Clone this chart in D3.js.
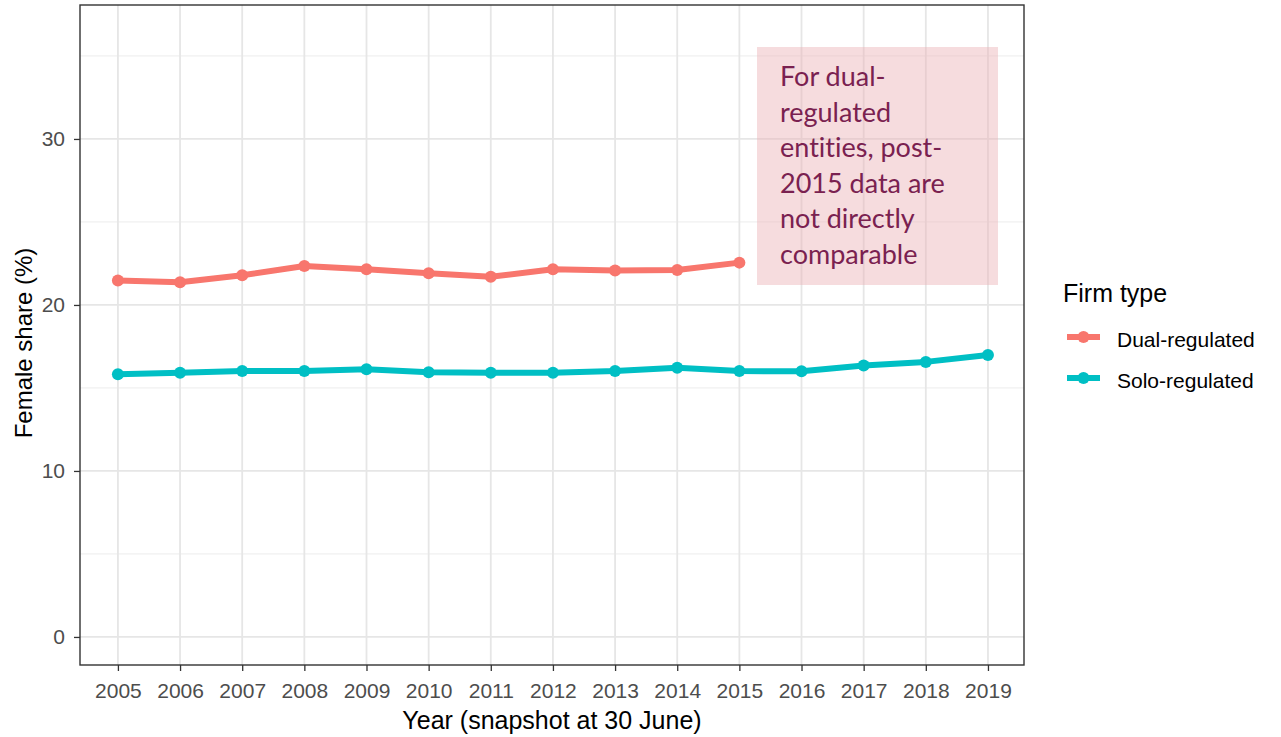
<!DOCTYPE html>
<html><head><meta charset="utf-8">
<script src="https://cdn.jsdelivr.net/npm/d3@7"></script>
<style>body{margin:0;background:#fff}svg{display:block}text{font-variant-ligatures:none;font-feature-settings:"liga" 0}</style>
</head><body>
<svg id="c" width="1281" height="737"></svg>
<script>
const years = [2005,2006,2007,2008,2009,2010,2011,2012,2013,2014,2015,2016,2017,2018,2019];
const dualYears = [2005,2006,2007,2008,2009,2010,2011,2012,2013,2014,2015];
const dualValues = [21.47,21.37,21.79,22.35,22.15,21.91,21.70,22.15,22.07,22.10,22.55];
const soloValues = [15.82,15.92,16.02,16.02,16.13,15.94,15.92,15.92,16.02,16.22,16.02,16.00,16.35,16.57,16.99];
const yTicks = [0,10,20,30];
const yMinor = [5,15,25,35];
const seriesNames = ["Dual-regulated","Solo-regulated"];
const seriesColors = ["#F8766D","#00BFC4"];
const annotationLines = ["For dual-","regulated","entities, post-","2015 data are","not directly","comparable"];

const FONT = "'Liberation Sans', Arial, sans-serif";
const svg = d3.select("#c");
const L=80, R=1024, T=5, B=665;
const x = d3.scaleLinear().domain([2004.39, 2019.58]).range([L,R]);
const y = d3.scaleLinear().domain([-1.69, 38.07]).range([B,T]);

// gridlines
const g = svg.append("g");
g.selectAll(".ym").data(yMinor).join("line").attr("x1",L).attr("x2",R)
 .attr("y1",d=>y(d)).attr("y2",d=>y(d)).attr("stroke","#f0f0f0").attr("stroke-width",1.2);
g.selectAll(".yM").data(yTicks).join("line").attr("x1",L).attr("x2",R)
 .attr("y1",d=>y(d)).attr("y2",d=>y(d)).attr("stroke","#e6e6e6").attr("stroke-width",1.8);
g.selectAll(".xM").data(years).join("line").attr("y1",T).attr("y2",B)
 .attr("x1",d=>x(d)).attr("x2",d=>x(d)).attr("stroke","#e6e6e6").attr("stroke-width",1.8);

// annotation box
svg.append("rect").attr("x",757).attr("y",47).attr("width",241).attr("height",238)
 .attr("fill","rgba(236,178,182,0.45)");
svg.append("g").selectAll("text").data(annotationLines).join("text")
 .attr("x",780).attr("y",(d,i)=>86+i*35.5)
 .attr("font-family","Lato, 'Open Sans', sans-serif").attr("font-size",27)
 .attr("fill","#7a2150").text(d=>d);

// lines
const line = d3.line().x(d=>x(d[0])).y(d=>y(d[1])).curve(d3.curveLinear);
const dual = dualYears.map((yr,i)=>[yr,dualValues[i]]);
const solo = years.map((yr,i)=>[yr,soloValues[i]]);
[dual,solo].forEach((data,k)=>{
  svg.append("path").datum(data).attr("d",line).attr("fill","none")
   .attr("stroke",seriesColors[k]).attr("stroke-width",6).attr("stroke-linejoin","round");
  svg.append("g").selectAll("circle").data(data).join("circle")
   .attr("cx",d=>x(d[0])).attr("cy",d=>y(d[1])).attr("r",6).attr("fill",seriesColors[k]);
});

// panel border
svg.append("rect").attr("x",L).attr("y",T).attr("width",R-L).attr("height",B-T)
 .attr("fill","none").attr("stroke","#333").attr("stroke-width",1.4);

// axes
const xa = svg.append("g").attr("transform",`translate(0,${B})`)
 .call(d3.axisBottom(x).tickValues(years).tickFormat(d3.format("d")).tickSize(6).tickPadding(12));
const ya = svg.append("g").attr("transform",`translate(${L},0)`)
 .call(d3.axisLeft(y).tickValues(yTicks).tickSize(6).tickPadding(9));
[xa,ya].forEach(a=>{
  a.select(".domain").remove();
  a.selectAll("line").attr("stroke","#333").attr("stroke-width",1.3);
  a.selectAll("text").attr("font-family",FONT)
   .attr("font-size",21).attr("fill","#4d4d4d");
});

svg.append("text").attr("x",(L+R)/2).attr("y",729).attr("text-anchor","middle")
 .attr("font-family",FONT).attr("font-size",25).attr("fill","#000")
 .text("Year (snapshot at 30 June)");
svg.append("text").attr("transform",`translate(32,343) rotate(-90)`).attr("text-anchor","middle")
 .attr("font-family",FONT).attr("font-size",24).attr("fill","#000")
 .text("Female share (%)");

// legend
const lg = svg.append("g");
lg.append("text").attr("x",1063).attr("y",302).attr("font-family",FONT)
 .attr("font-size",25).attr("fill","#000").text("Firm type");
seriesNames.forEach((n,i)=>{
  const cy = 337 + i*41;
  lg.append("line").attr("x1",1067).attr("x2",1100).attr("y1",cy).attr("y2",cy)
   .attr("stroke",seriesColors[i]).attr("stroke-width",6);
  lg.append("circle").attr("cx",1083.5).attr("cy",cy).attr("r",6).attr("fill",seriesColors[i]);
  lg.append("text").attr("x",1117).attr("y",cy+10).attr("font-family",FONT)
   .attr("font-size",21).attr("fill","#000").text(n);
});
</script>
</body></html>
